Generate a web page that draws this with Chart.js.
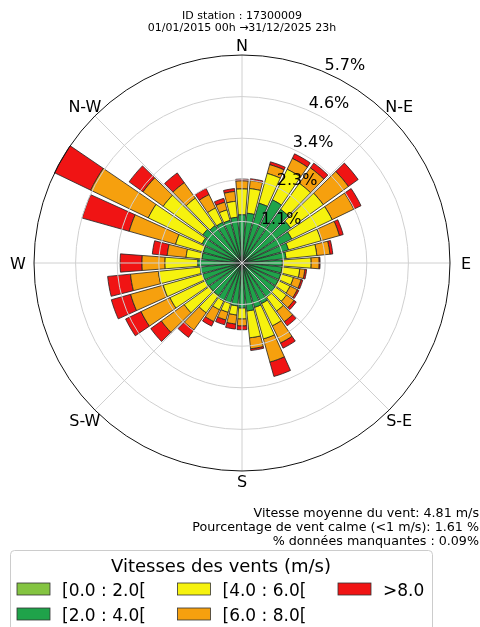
<!DOCTYPE html>
<html>
<head>
<meta charset="utf-8">
<script src="https://cdn.jsdelivr.net/npm/chart.js@4/dist/chart.umd.min.js"></script>
<style>
  html, body { margin: 0; padding: 0; background: #fff; }
  #wrap { width: 480px; height: 627px; }
</style>
</head>
<body>
<div id="wrap"><canvas id="rose" width="480" height="627"></canvas></div>
<script>
// Wind direction sectors (degrees, clockwise from north)
const directions = [0,10,20,30,40,50,60,70,80,90,100,110,120,130,140,150,160,170,
                    180,190,200,210,220,230,240,250,260,270,280,290,300,310,320,330,340,350];

// Frequency (%) per sector and speed class
const speed_0_2 = [0.04,0.03,0.05,0.04,0.05,0.04,0.03,0.03,0.02,0.02,0.02,0.03,0.02,0.02,0.03,0.03,0.04,0.03,
                   0.03,0.02,0.02,0.02,0.03,0.03,0.03,0.04,0.03,0.03,0.02,0.03,0.04,0.04,0.03,0.03,0.03,0.03];
const speed_2_4 = [1.28,1.34,1.65,1.88,1.76,1.60,1.48,1.29,1.19,1.08,1.08,1.07,1.08,1.10,1.12,1.20,1.22,1.29,
                   1.20,1.16,1.13,1.13,1.07,1.07,1.09,1.08,1.12,1.18,1.08,1.07,1.17,1.28,1.23,1.20,1.18,1.23];
const speed_4_6 = [0.71,0.68,0.85,0.93,0.88,1.10,1.23,0.93,0.85,0.79,0.49,0.36,0.36,0.38,0.47,0.68,0.90,0.74,
                   0.30,0.25,0.25,0.27,0.58,0.85,1.07,1.12,1.15,0.90,0.44,0.79,1.64,1.34,0.93,0.44,0.30,0.44];
const speed_6_8 = [0.22,0.22,0.25,0.33,0.52,0.85,0.66,0.52,0.36,0.22,0.14,0.22,0.22,0.25,0.36,0.52,0.66,0.30,
                   0.19,0.25,0.22,0.36,0.58,0.77,0.88,0.93,0.77,0.63,0.52,1.32,1.75,0.68,0.52,0.41,0.22,0.27];
const speed_8_plus = [0.05,0.05,0.08,0.14,0.16,0.33,0.22,0.11,0.08,0.03,0.05,0.05,0.05,0.08,0.14,0.16,0.41,0.05,
                      0.11,0.14,0.14,0.14,0.25,0.36,0.47,0.55,0.63,0.60,0.41,1.34,1.10,0.47,0.33,0.19,0.11,0.08];

const speedClasses = ['[0.0 : 2.0[', '[2.0 : 4.0[', '[4.0 : 6.0[', '[6.0 : 8.0[', '>8.0'];
const speedColors  = ['#84c441', '#1fa34a', '#f6f20e', '#f6a00e', '#f01414'];

// Radial rings (%) and their labels
const ringValues = [1.14, 2.28, 3.42, 4.56, 5.70];
const ringLabels = ['1.1%', '2.3%', '3.4%', '4.6%', '5.7%'];
const compassNames = ['N', 'N-E', 'E', 'S-E', 'S', 'S-W', 'W', 'N-W'];

const titleLines = ['ID station : 17300009', '01/01/2015 00h \u219231/12/2025 23h'];
const statsLines = ['Vitesse moyenne du vent: 4.81 m/s',
                    'Pourcentage de vent calme (<1 m/s): 1.61 %',
                    '% donn\u00e9es manquantes : 0.09%'];
const legendTitle = 'Vitesses des vents (m/s)';

const FONT = '"DejaVu Sans", sans-serif';
const BAR_OPENING = 0.86;   // fraction of a sector covered by a bar

// Stacked polar bars: each dataset starts where the previous speed classes end.
class WindRoseController extends Chart.PolarAreaController {
  updateElements(arcs, start, count, mode) {
    const scale = this._cachedMeta.rScale;
    const datasets = this.chart.data.datasets;
    const n = this.chart.data.labels.length;
    const half = (2 * Math.PI / n) * BAR_OPENING / 2;
    for (let i = start; i < start + count; i++) {
      let base = 0;
      for (let d = 0; d < this.index; d++) base += datasets[d].data[i];
      const value = this.getParsed(i).r;
      const mid = scale.getIndexAngle(i) - Math.PI / 2;
      this.updateElement(arcs[i], i, {
        x: scale.xCenter,
        y: scale.yCenter,
        innerRadius: scale.getDistanceFromCenterForValue(base),
        outerRadius: scale.getDistanceFromCenterForValue(base + value),
        startAngle: mid - half,
        endAngle: mid + half,
        options: this.resolveDataElementOptions(i, mode)
      }, mode);
    }
  }
}
WindRoseController.id = 'windRose';
WindRoseController.defaults = Chart.PolarAreaController.defaults;
WindRoseController.overrides = Chart.PolarAreaController.overrides;
Chart.register(WindRoseController);

const roseDecor = {
  id: 'roseDecor',
  afterDatasetsDraw(chart) {
    const s = chart.scales.r, ctx = chart.ctx;
    ctx.save();
    ctx.strokeStyle = '#d0d0d0';
    ctx.lineWidth = 1;
    compassNames.forEach((_, k) => {
      const a = k * Math.PI / 4 - Math.PI / 2;
      ctx.beginPath();
      ctx.moveTo(s.xCenter, s.yCenter);
      ctx.lineTo(s.xCenter + Math.cos(a) * s.drawingArea, s.yCenter + Math.sin(a) * s.drawingArea);
      ctx.stroke();
    });
    ctx.restore();
  },
  afterDraw(chart) {
    const s = chart.scales.r, ctx = chart.ctx;
    const R = s.drawingArea;
    ctx.save();
    ctx.fillStyle = '#000';

    // title
    ctx.font = '11px ' + FONT;
    ctx.textAlign = 'center';
    ctx.textBaseline = 'alphabetic';
    titleLines.forEach((t, i) => ctx.fillText(t, s.xCenter, 19 + i * 12));

    // compass labels
    ctx.font = '16px ' + FONT;
    compassNames.forEach((name, k) => {
      const a = k * Math.PI / 4 - Math.PI / 2;
      const d = R + 10 + 6 * Math.abs(Math.cos(a));
      ctx.fillText(name, s.xCenter + Math.cos(a) * d, s.yCenter + Math.sin(a) * d + 5.8);
    });

    // ring labels
    ctx.textAlign = 'left';
    const la = (22.5 - 90) * Math.PI / 180;
    ringValues.forEach((v, i) => {
      const d = s.getDistanceFromCenterForValue(v);
      ctx.fillText(ringLabels[i], s.xCenter + Math.cos(la) * d + 3, s.yCenter + Math.sin(la) * d - 1);
    });

    // statistics
    ctx.font = '12.7px ' + FONT;
    ctx.textAlign = 'right';
    statsLines.forEach((t, i) => ctx.fillText(t, 479, 517 + i * 14));

    // legend
    const bx = 10, by = 550, bw = 422, bh = 100;
    ctx.fillStyle = 'rgba(255,255,255,0.85)';
    ctx.strokeStyle = '#cccccc';
    ctx.lineWidth = 1;
    ctx.beginPath();
    ctx.roundRect(bx + 0.5, by + 0.5, bw, bh, 4);
    ctx.fill();
    ctx.stroke();
    ctx.fillStyle = '#000';
    ctx.font = '18px ' + FONT;
    ctx.textAlign = 'center';
    ctx.fillText(legendTitle, bx + bw / 2, 572);
    ctx.font = '17px ' + FONT;
    ctx.textAlign = 'left';
    chart.data.datasets.forEach((ds, k) => {
      const col = Math.floor(k / 2), row = k % 2;
      const px = 17 + col * 160.5, py = 583 + row * 25;
      ctx.fillStyle = ds.backgroundColor;
      ctx.fillRect(px, py, 33, 12);
      ctx.strokeStyle = '#333';
      ctx.lineWidth = 0.8;
      ctx.strokeRect(px, py, 33, 12);
      ctx.fillStyle = '#000';
      ctx.fillText(ds.label, px + 45, py + 12.5);
    });
    ctx.restore();
  }
};

const seriesData = [speed_0_2, speed_2_4, speed_4_6, speed_6_8, speed_8_plus];

new Chart(document.getElementById('rose'), {
  type: 'windRose',
  data: {
    labels: directions.map(d => d + '\u00b0'),
    datasets: seriesData.map((values, k) => ({
      label: speedClasses[k],
      data: values,
      backgroundColor: speedColors[k],
      borderColor: '#222',
      borderWidth: 0.8
    }))
  },
  options: {
    responsive: false,
    animation: false,
    devicePixelRatio: 1,
    layout: { padding: { left: 34, right: 30, top: 55, bottom: 156 } },
    plugins: {
      legend: { display: false },
      tooltip: { enabled: false },
      title: { display: false }
    },
    scales: {
      r: {
        type: 'radialLinear',
        min: 0,
        max: ringValues[ringValues.length - 1],
        startAngle: 0,
        z: 1,
        afterBuildTicks: sc => { sc.ticks = [0, ...ringValues].map(v => ({ value: v })); },
        ticks: { display: false },
        grid: {
          z: 1,
          circular: true,
          lineWidth: 1,
          color: c => (c.tick && c.tick.value >= ringValues[ringValues.length - 1]) ? '#111' : '#d0d0d0'
        },
        angleLines: { display: false },
        pointLabels: { display: false }
      }
    }
  },
  plugins: [roseDecor]
});
</script>
</body>
</html>
